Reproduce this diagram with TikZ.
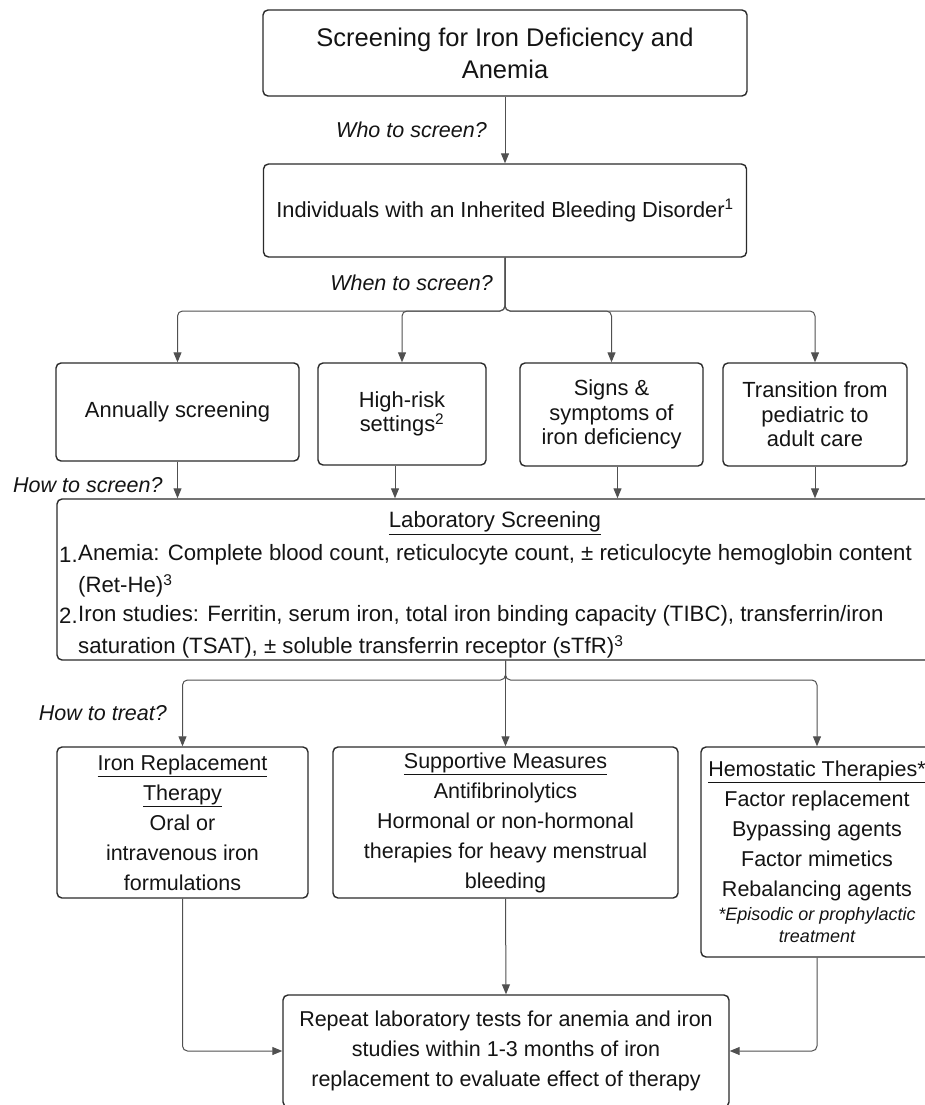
\documentclass[tikz,border=0pt]{standalone}
\usepackage{fontspec}
\setmainfont{Liberation Sans}
\usetikzlibrary{arrows.meta,calc}
\definecolor{bd}{HTML}{2B2B2B}
\definecolor{cn}{HTML}{505050}
\definecolor{tx}{HTML}{141414}
\begin{document}
\begin{tikzpicture}[x=1pt,y=-1pt,
  box/.style={draw=bd,line width=1.4pt,rounded corners=5pt,align=center,inner sep=0pt,
    font=\fontsize{21.5}{30}\selectfont,text=tx},
  rowbox/.style={box,font=\fontsize{21.9}{24.5}\selectfont},
  conn/.style={draw=cn,line width=1pt,rounded corners=5pt,-{Triangle[length=10pt,width=8pt]}},
  lbl/.style={font=\fontsize{21.5}{26}\selectfont\itshape,inner sep=0pt,text=tx},
  labtxt/.style={font=\fontsize{22.2}{26}\selectfont,inner sep=0pt,text=tx,anchor=west}]
\useasboundingbox (0,0) rectangle (925,1105);
\clip (0,0) rectangle (925,1105);
\fill[white] (0,0) rectangle (925,1105);

% top boxes
\node[box,minimum width=484pt,minimum height=86pt,font=\fontsize{25.5}{32}\selectfont] (top) at (505,53) {Screening for Iron Deficiency and\\Anemia};
\node[box,minimum width=483pt,minimum height=93pt,font=\fontsize{21.8}{30}\selectfont] (who) at (505,210.5) {Individuals with an Inherited Bleeding Disorder\textsuperscript{1}};
\draw[conn] (top.south) -- (who.north);
\node[lbl,anchor=east] (q1) at (487,130) {Who to screen?};
\node[lbl,anchor=east] (q2) at (493,283) {When to screen?};

% when boxes
\node[rowbox,minimum width=243pt,minimum height=98pt] (ann) at (177.5,412) {Annually screening};
\node[rowbox,minimum width=168pt,minimum height=102pt] (hr) at (402,414) {High-risk\\settings\textsuperscript{2}};
\node[rowbox,minimum width=183pt,minimum height=103pt] (sig) at (611.5,414.5) {Signs \&\\symptoms of\\iron deficiency};
\node[rowbox,minimum width=184pt,minimum height=103pt] (tra) at (815,414.5) {Transition from\\pediatric to\\adult care};

\coordinate (j1) at (505,311);
\draw[conn] (who.south) |- (ann.north |- j1) -- (ann.north);
\draw[conn] (who.south) |- (hr.north |- j1) -- (hr.north);
\draw[conn] (who.south) |- (sig.north |- j1) -- (sig.north);
\draw[conn] (who.south) |- (tra.north |- j1) -- (tra.north);

% laboratory screening
\node[box,minimum width=878pt,minimum height=161pt] (lab) at (496,579.5) {};
\node[lbl,anchor=west] (q3) at (13,485) {How to screen?};
\coordinate (hrb) at ([xshift=-7pt]hr.south);
\coordinate (sigb) at ([xshift=6pt]sig.south);
\draw[conn] (ann.south) -- (ann.south |- lab.north);
\draw[conn] (hrb) -- (hrb |- lab.north);
\draw[conn] (sigb) -- (sigb |- lab.north);
\draw[conn] (tra.south) -- (tra.south |- lab.north);

\node[labtxt,anchor=center] (l0) at (495,523) {\underline{Laboratory Screening}};
\node[labtxt] (l1n) at (59,555) {1.};
\node[labtxt] (l1) at (78,555) {Anemia: Complete blood count, reticulocyte count, ± reticulocyte hemoglobin content};
\node[labtxt] (l2) at (78,586) {(Ret-He)\textsuperscript{3}};
\node[labtxt] (l3n) at (59,616) {2.};
\node[labtxt] (l3) at (78,616) {Iron studies: Ferritin, serum iron, total iron binding capacity (TIBC), transferrin/iron};
\node[labtxt] (l4) at (78,647) {saturation (TSAT), ± soluble transferrin receptor (sTfR)\textsuperscript{3}};

% treatment boxes
\node[box,minimum width=251pt,minimum height=151pt] (iron) at (182.5,822.5) {\underline{Iron Replacement}\\\underline{Therapy}\\Oral or\\intravenous iron\\formulations};
\node[box,minimum width=345pt,minimum height=151pt] (sup) at (505.5,822.5) {\underline{Supportive Measures}\\Antifibrinolytics\\Hormonal or non-hormonal\\therapies for heavy menstrual\\bleeding};
\node[box,minimum width=232pt,minimum height=210pt] (hem) at (817,852) {\underline{Hemostatic Therapies*}\\Factor replacement\\Bypassing agents\\Factor mimetics\\Rebalancing agents\\[-6pt]{\fontsize{18}{21}\selectfont\itshape *Episodic or prophylactic}\\[-8pt]{\fontsize{18}{21}\selectfont\itshape treatment}};

\coordinate (j2) at (505,680);
\coordinate (ls) at (lab.south -| sup.north);
\draw[conn] (ls) |- (iron.north |- j2) -- (iron.north);
\draw[conn] (ls) -- (sup.north);
\draw[conn] (ls) |- (hem.north |- j2) -- (hem.north);
\node[lbl,anchor=east] (q4) at (167,713) {How to treat?};

% follow-up
\node[box,minimum width=446pt,minimum height=112pt] (bot) at (506,1051) {Repeat laboratory tests for anemia and iron\\studies within 1-3 months of iron\\replacement to evaluate effect of therapy};
\draw[conn] (iron.south) |- (bot.west);
\draw[conn] (sup.south) -- (bot.north);
\draw[conn] (hem.south) |- (bot.east);
\end{tikzpicture}
\end{document}
